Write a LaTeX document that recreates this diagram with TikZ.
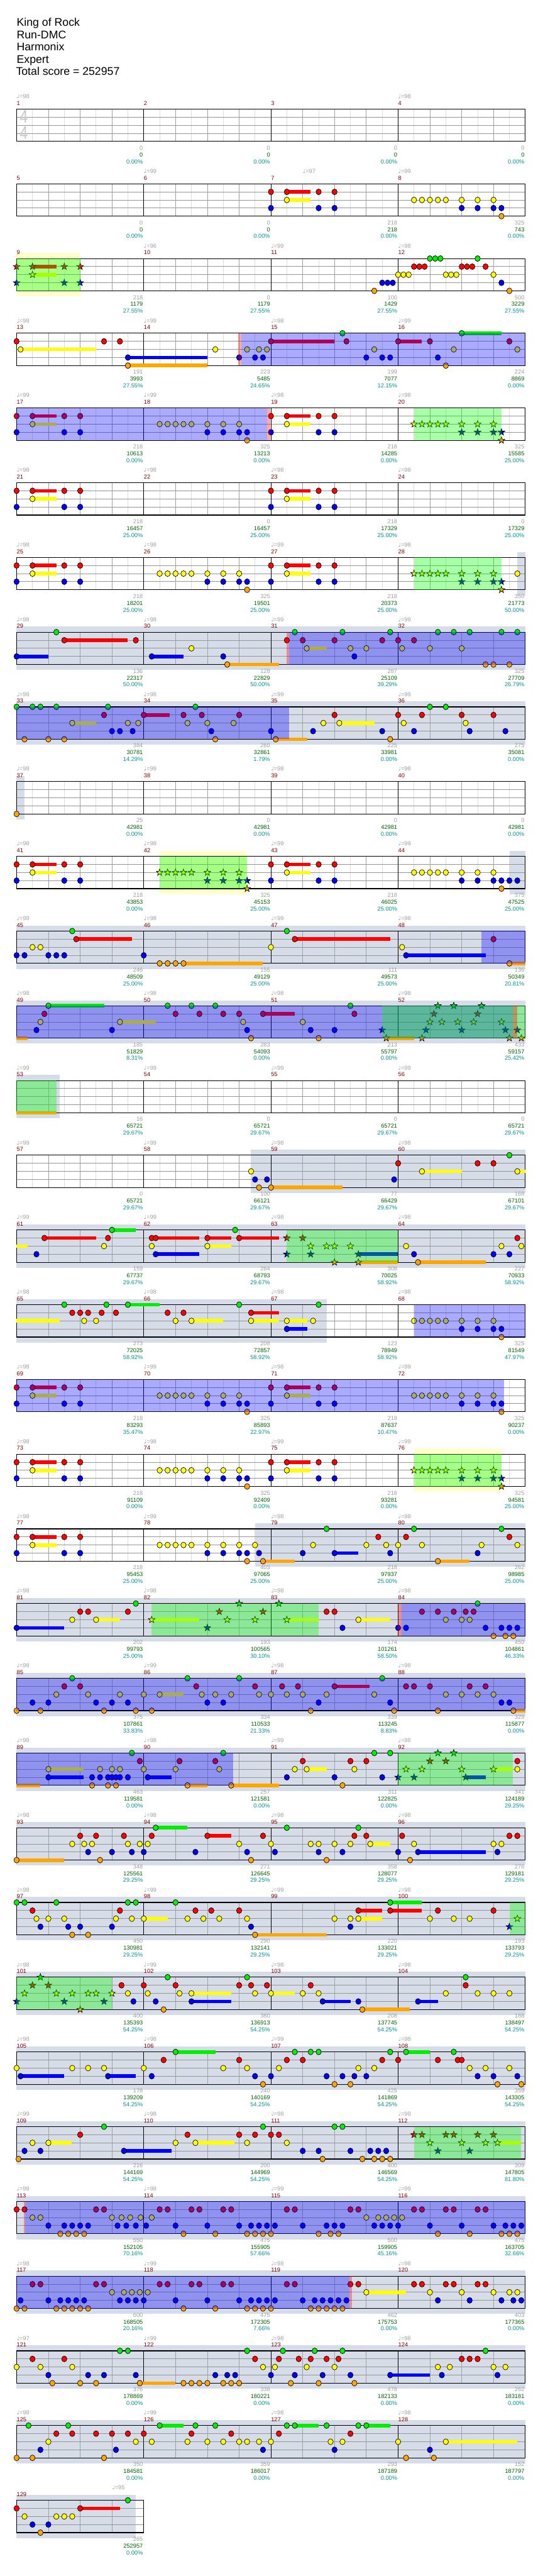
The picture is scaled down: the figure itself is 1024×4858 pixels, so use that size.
\documentclass[tikz,border=0pt]{standalone}
\usepackage{fontspec}
\setmainfont{Liberation Sans}
\newfontfamily\sym{DejaVu Sans}
\definecolor{cG}{HTML}{00EE00}
\definecolor{cR}{HTML}{FF0000}
\definecolor{cY}{HTML}{FFFF00}
\definecolor{cB}{HTML}{0000FF}
\definecolor{cO}{HTML}{FFA500}
\definecolor{greyband}{HTML}{D6DCE8}
\definecolor{paleyel}{HTML}{FFFFCC}
\definecolor{mncol}{HTML}{8B0000}
\definecolor{stgray}{HTML}{A0A0A0}
\definecolor{stgreen}{HTML}{006400}
\definecolor{stteal}{HTML}{009696}
\definecolor{odcol}{HTML}{0808FF}
\def\lnG{0}\def\lnR{1}\def\lnY{2}\def\lnB{3}\def\lnO{4}
\newcount\nc
\tikzset{
 gem/.style={draw=black,line width=0.6pt},
 l8/.style={draw={rgb,255:red,221;green,221;blue,221},line width=0.75pt},
 lb/.style={draw=stgray,line width=0.75pt},
 hl/.style={draw={rgb,255:red,150;green,150;blue,150},line width=0.8pt},
 ml/.style={draw=black,line width=0.75pt},
 bd/.style={draw=black,line width=1pt},
 odf/.style={fill=odcol,fill opacity=0.34},
 spf/.style={fill={rgb,255:red,0;green,255;blue,0},fill opacity=0.34},
 pkf/.style={fill=red,fill opacity=0.34},
 txt/.style={inner sep=0pt,font=\fontsize{8.25pt}{9pt}\selectfont},
 mn/.style={txt,text=mncol},
 tp/.style={txt,text=stgray},
 sa/.style={txt,text=stgray},
 sb/.style={txt,text=stgreen},
 sc/.style={txt,text=stteal},
 hdr/.style={inner sep=0pt,font=\fontsize{15.75pt}{18pt}\selectfont,anchor=base west}
}
\newcommand\nt[2]{\filldraw[gem,fill=c#2] (#1,\csname ln#2\endcsname) ellipse [x radius=3.75pt,y radius=4.1pt];}
\newcommand\su[3]{\fill[c#3] (#1,\csname ln#3\endcsname-0.22) rectangle (#2,\csname ln#3\endcsname+0.22);}
\newcommand\sg[2]{\filldraw[gem,fill=c#2,shift={(#1,\csname ln#2\endcsname)}] (90:5pt)--(126:2pt)--(162:5pt)--(198:2pt)--(234:5pt)--(270:2pt)--(306:5pt)--(342:2pt)--(18:5pt)--(54:2pt)--cycle;}
\newcommand\gems[1]{\foreach \a/\b in {#1}{\edef\tmpx{\noexpand\nt{\a}{\b}}\tmpx}}
\newcommand\sust[1]{\foreach \a/\b/\c in {#1}{\edef\tmpx{\noexpand\su{\a}{\b}{\c}}\tmpx}}
\newcommand\starg[1]{\foreach \a/\b in {#1}{\edef\tmpx{\noexpand\sg{\a}{\b}}\tmpx}}
\newcommand\patA[1]{\su{#1+2}{#1+5}{R}\su{#1+2}{#1+5}{Y}\nt{#1}{R}\nt{#1}{B}\nt{#1+2}{R}\nt{#1+2}{Y}\nt{#1+6}{R}\nt{#1+6}{B}\nt{#1+8}{R}\nt{#1+8}{B}}
\newcommand\patAs[1]{\su{#1+2}{#1+5}{R}\su{#1+2}{#1+5}{Y}\sg{#1}{R}\sg{#1}{B}\sg{#1+2}{R}\sg{#1+2}{Y}\sg{#1+6}{R}\sg{#1+6}{B}\sg{#1+8}{R}\sg{#1+8}{B}}
\newcommand\patB[1]{\foreach \k in {2,3,4,5,6,8,10,12}{\nt{#1+\k}{Y}}\foreach \k in {8,10,12,13}{\nt{#1+\k}{B}}\nt{#1+13}{O}}
\newcommand\patBs[1]{\foreach \k in {2,3,4,5,6,8,10,12}{\sg{#1+\k}{Y}}\foreach \k in {8,10,12,13}{\sg{#1+\k}{B}}\sg{#1+13}{O}}
\newcommand\od[2]{\fill[odf] (#1,0) rectangle (#2,4);}
\newcommand\spr[2]{\fill[spf] (#1,0) rectangle (#2,4);}
\newcommand\pk[2]{\fill[pkf] (#1,0) rectangle (#2,4);}
\newcommand\gb[2]{\fill[greyband] (#1,-0.68) rectangle (#2,4.68);}
\newcommand\yb[2]{\fill[paleyel] (#1,-0.68) rectangle (#2,4.68);}
\newcommand\grid[1]{%
 \pgfmathtruncatemacro\nn{16*#1}%
 \foreach \t in {2,6,...,\nn}{\draw[l8] (\t,0)--(\t,4);}%
 \foreach \t in {4,8,...,\nn}{\draw[lb] (\t,0)--(\t,4);}%
 \foreach \l in {1,2,3}{\draw[hl] (0,\l)--(\nn,\l);}%
 \foreach \m in {1,...,#1}{\draw[ml] (16*\m,0)--(16*\m,4);}%
 \draw[bd] (0,0) rectangle (\nn,4);}
\newcommand\mnums[2]{\foreach \i in {1,...,#2}{\pgfmathtruncatemacro\mm{#1+\i-1}\node[mn,anchor=base west,name=mn\mm] at ({16*(\i-1)},-0.48) {\mm};}}
\newcommand\tempos[1]{\foreach \t/\v in {#1}{\global\advance\nc by 1 \node[tp,anchor=base west,name=tp\the\nc] at (\t,-1.31) {{\sym ♩}=\v};}}
\newcommand\stt[1]{\foreach \i/\a/\b/\c in {#1}{\global\advance\nc by 1
 \node[sa,anchor=base east,name=sa\the\nc] at ({16*\i-0.09},5.05) {\a};
 \node[sb,anchor=base east,name=sb\the\nc] at ({16*\i-0.09},5.90) {\b};
 \node[sc,anchor=base east,name=sc\the\nc] at ({16*\i-0.09},6.74) {\c\%};}}
\newcommand\rowb[1]{\pgfmathsetmacro\rt{205.7+140.92*(#1-1)}\begin{scope}[shift={(31.3,\rt)},x=11.25pt,y=-11.4375pt]}
\newcommand\rowe{\end{scope}}
\begin{document}
\begin{tikzpicture}[x=0.75pt,y=-0.75pt]
\fill[white] (0,0) rectangle (1024,4858);
\useasboundingbox (0,0) rectangle (1024,4858);
\node[hdr] (h1) at (31.3,49.3) {King of Rock};
\node[hdr] (h2) at (31.3,72.4) {Run-DMC};
\node[hdr] (h3) at (31.3,95.5) {Harmonix};
\node[hdr] (h4) at (31.3,118.6) {Expert};
\node[hdr] (h5) at (30,141.7) {Total score = 252957};
% row 1
\rowb{1}
\grid{4}
\node[inner sep=0pt,text={rgb,255:red,200;green,200;blue,200},font=\fontsize{26pt}{26pt}\selectfont] (ts1) at (0.9,0.97) {\scalebox{0.8}[1]{4}};
\node[inner sep=0pt,text={rgb,255:red,200;green,200;blue,200},font=\fontsize{26pt}{26pt}\selectfont] (ts2) at (0.9,2.97) {\scalebox{0.8}[1]{4}};
\mnums{1}{4}\tempos{0/98,48/98}
\stt{1/0/0/0.00,2/0/0/0.00,3/0/0/0.00,4/0/0/0.00}
\rowe
% row 2
\rowb{2}
\grid{4}
\patA{32}\patB{48}
\mnums{5}{4}\tempos{16/99,36/97,48/99}
\stt{1/0/0/0.00,2/0/0/0.00,3/218/218/0.00,4/325/743/0.00}
\rowe
% row 3
\rowb{3}
\yb{0}{8}
\grid{4}
\patAs{0}
\gems{45/O,46/B,46.67/B,47.33/B,48/Y,48.67/Y,49.33/Y,50/R,50.67/R,51.33/R,52/G,52.67/G,53.33/G,54/Y,54.67/Y,55.33/Y,56/R,56.67/R,57.33/R,58/G,59/R,60/Y,61/B,62/O}
\spr{0}{8}
\mnums{9}{4}\tempos{16/96,32/99,48/98}
\stt{1/218/1179/27.55,2/0/1179/27.55,3/100/1429/27.55,4/500/3229/27.55}
\rowe
% row 4
\rowb{4}
\grid{4}
\sust{0.5/10/Y,14/24/B,14/24/O,32/40/R,48/51/R,56/61/G}
\gems{0/R,0.5/Y,11/R,13/R,14/B,14/O,25/Y,28/B,29/Y,30/B,30.5/Y,31/B,31.5/Y,32/R,41/G,41.5/R,44/B,45/Y,46/B,47/B,48/R,52/R,53/B,54/O,55/Y,56/G,62/R,63/Y}
\pk{27.9}{28.27}\od{28.27}{64}
\mnums{13}{4}\tempos{0/98,16/99,32/98,48/99}
\stt{1/191/3993/27.55,2/223/5485/24.65,3/199/7077/12.15,4/224/8869/0.00}
\rowe
% row 5
\rowb{5}
\grid{4}
\patA{0}\patB{16}\patA{32}\patBs{48}
\od{0}{31.5}\pk{31.5}{31.9}\spr{50}{61}
\mnums{17}{4}\tempos{0/99,16/99,32/98,48/98}
\stt{1/218/10613/0.00,2/325/13213/0.00,3/218/14285/0.00,4/325/15585/25.00}
\rowe
% row 6
\rowb{6}
\grid{4}
\patA{0}\patA{32}
\mnums{21}{4}\tempos{0/98,16/98,32/98,48/98}
\stt{1/218/16457/25.00,2/0/16457/25.00,3/218/17329/25.00,4/0/17329/25.00}
\rowe
% row 7
\rowb{7}
\gb{63}{64}
\grid{4}
\patA{0}\patB{16}\patA{32}\patBs{48}\gems{63/Y}
\spr{50}{61}
\mnums{25}{4}\tempos{0/98,16/98,32/99,48/98}
\stt{1/218/18201/25.00,2/325/19501/25.00,3/218/20373/25.00,4/350/21773/50.00}
\rowe
% row 8
\rowb{8}
\gb{0}{64}
\grid{4}
\sust{0/4/B,6/14/R,17/21/B,26.5/33/O,36.5/39/Y}
\gems{0/B,5/G,6/R,15/R,17/B,22/Y,26/B,26.5/O,34/R,35/G,36/R,36.5/Y,40/R,41/G,42/Y,42.5/B,44/Y,46/R,47/G,48/R,48.5/Y,50/R,52/Y,53/G,55/G,56/Y,57/G,59/O,60/O,61/G,62/O,63/G}
\pk{34}{34.3}\od{34.3}{64}
\mnums{29}{4}\tempos{0/98,16/98,32/99,48/99}
\stt{1/136/22317/50.00,2/128/22829/50.00,3/287/25109/39.29,4/325/27709/26.79}
\rowe
% row 9
\rowb{9}
\gb{0}{64}
\grid{4}
\sust{7/10/Y,16/19.3/R,32.6/36.6/O,40.6/45/Y}
\gems{0/G,1/O,2/G,3/G,4/O,5/G,6/O,7/Y,11/R,11.5/G,12/B,13/B,14/Y,14.6/B,15.3/Y,16/R,21/R,21.5/Y,22.5/G,23.3/R,24/Y,24.5/B,25/O,27.3/Y,28/R,32/B,32.6/O,37.3/B,38.6/Y,40/R,40.6/Y,46/B,47/O,48/R,48.7/Y,50/B,51/R,52/G,54/G,56/R,56.5/Y,57/B,60/R,61.5/B}
\od{0}{34.3}
\mnums{33}{4}\tempos{0/98,16/98,32/99,48/99}
\stt{1/384/30781/14.29,2/260/32861/1.79,3/225/33981/0.00,4/275/35081/0.00}
\rowe
% row 10
\rowb{10}
\gb{0}{1}
\grid{4}
\gems{0/O}
\mnums{37}{4}\tempos{0/98,16/99,32/98,48/98}
\stt{1/25/42981/0.00,2/0/42981/0.00,3/0/42981/0.00,4/0/42981/0.00}
\rowe
% row 11
\rowb{11}
\yb{18}{29}\gb{62}{64}
\grid{4}
\patA{0}\patBs{16}\patA{32}\patB{48}\gems{62/B,63/B}
\spr{18}{29}
\mnums{41}{4}\tempos{0/98,16/98,32/99,48/99}
\stt{1/218/43853/0.00,2/325/45153/25.00,3/218/46025/25.00,4/375/47525/25.00}
\rowe
% row 12
\rowb{12}
\gb{0}{64}
\grid{4}
\sust{7.5/14.5/R,21/31/O,35/47/R,49/59/B,62/64/O}
\gems{0/B,1/B,2/Y,3/Y,4/B,5/B,6/B,7/G,7.5/R,16/B,18/O,19/O,20/O,21/O,32/Y,34/G,35/R,48.5/Y,49/B,60/R,62/O}
\od{58.5}{64}
\mnums{45}{4}\tempos{0/98,16/98,32/99,48/98}
\stt{1/246/48509/25.00,2/155/49129/25.00,3/111/49573/25.00,4/136/50349/20.81}
\rowe
% row 13
\rowb{13}
\gb{0}{64}
\grid{4}
\sust{0/1.4/O,4/11/G,13/17.5/Y,31/35/R,46.5/50/O}
\gems{2.5/B,3/Y,3.5/R,4/G,12/B,13/Y,19/G,20/R,22/G,23/R,25/G,26/R,28/R,28.5/Y,29/B,29.5/O,31/R,36/Y,37/B,38/O,40/B,42/G,42.5/R}
\starg{46/B,46.5/O,51/O,51.5/B,52/Y,52.5/R,53/G,53.5/Y,55/G,55.5/Y,56/B,57.5/Y,58/R,58.5/G,61/Y,61.5/B,62/O,63/B,63.5/O}
\od{0}{62.4}\spr{46}{64}\pk{62.4}{63}
\mnums{49}{4}\tempos{0/98,16/98,32/98,48/98}
\stt{1/185/51829/8.31,2/283/54093/0.00,3/213/55797/0.00,4/433/59157/25.42}
\rowe
% row 14
\rowb{14}
\gb{0}{5.4}
\grid{4}
\sust{0/5/O}
\spr{0}{5}
\mnums{53}{4}\tempos{0/99,16/99,32/99,48/99}
\stt{1/16/65721/29.67,2/0/65721/29.67,3/0/65721/29.67,4/0/65721/29.67}
\rowe
% row 15
\rowb{15}
\gb{29.5}{64}
\grid{4}
\sust{32/41/O,51/56/Y,63/64/Y}
\gems{29.5/Y,30/B,30.5/O,31.5/B,32/O,47.5/B,48/R,51/Y,58/R,60/R,62/G,63/Y}
\mnums{57}{4}\tempos{0/99,16/99,32/98,48/98}
\stt{1/0/65721/29.67,2/100/66121/29.67,3/77/66429/29.67,4/168/67101/29.67}
\rowe
% row 16
\rowb{16}
\gb{0}{64}
\grid{4}
\sust{0/1.4/Y,3.5/10/R,12/15/G,17.5/23/R,17.5/23/B,24/27/R,24/27/Y,28/33/R,43/48/B,43/48/O,50.5/59/O}
\gems{2.5/B,3.5/R,11/Y,11.5/R,12/G,17/Y,17/R,17.5/R,17.5/B,24/R,24/Y,27.5/G,28/R,49/Y,50/B,50.5/O,60/B,61/Y,62/B,63/R,63.5/Y}
\starg{34/R,34/B,36/R,37/B,37/Y,39/Y,40/Y,40/O,42/Y,43/B,43/O}
\spr{34}{48}
\mnums{61}{4}\tempos{0/99,16/99,32/98,48/98}
\stt{1/159/67737/29.67,2/264/68793/29.67,3/308/70025/58.92,4/227/70933/58.92}
\rowe
% row 17
\rowb{17}
\gb{0}{39}
\grid{4}
\sust{0/5.4/Y,14/18/G,22/26/Y,29.5/33/R,29.5/33/Y,34/36.6/Y,34/36.6/B}
\gems{6/G,7/R,8/R,8.5/Y,9/R,10/Y,10.7/R,11.3/G,12.5/R,14/G,19/R,20/Y,21/R,22/Y,28/G,29.5/R,29.5/Y,34/Y,34/B,37.3/Y,38/G}
\patB{48}
\od{50}{64}
\mnums{65}{4}\tempos{0/98,16/98,32/98,48/98}
\stt{1/273/72025/58.92,2/208/72857/58.92,3/123/78949/58.92,4/325/81549/47.97}
\rowe
% row 18
\rowb{18}
\grid{4}
\patA{0}\patB{16}\patA{32}\patB{48}
\od{0}{61.3}
\mnums{69}{4}\tempos{0/98,16/99,32/98,48/99}
\stt{1/218/83293/35.47,2/325/85893/22.97,3/218/87637/10.47,4/325/90237/0.00}
\rowe
% row 19
\rowb{19}
\yb{50}{61}
\grid{4}
\patA{0}\patB{16}\patA{32}\patBs{48}
\spr{50}{61}
\mnums{73}{4}\tempos{0/98,16/98,32/99,48/99}
\stt{1/218/91109/0.00,2/325/92409/0.00,3/218/93281/0.00,4/325/94581/25.00}
\rowe
% row 20
\rowb{20}
\gb{30}{64}
\grid{4}
\patA{0}\patB{16}
\sust{31/35/O,40/43/B,53/57/O}
\gems{30/Y,30.5/B,31/O,36/B,37.3/Y,39/G,40/B,44/Y,45.5/R,46.5/Y,47/B,48/Y,49/R,50/G,51/Y,53/O,58/B,58.5/Y,61/G,62/R,63/Y}
\mnums{77}{4}\tempos{0/98,16/99,32/98,48/98}
\stt{1/218/95453/25.00,2/403/97065/25.00,3/218/97937/25.00,4/262/98985/25.00}
\rowe
% row 21
\rowb{21}
\gb{0}{64}
\grid{4}
\sust{0/6/B,10/13/Y,43/47/Y,17/23/Y,34/38/Y}
\gems{0/B,7/Y,8/R,9/R,10/Y,14/R,15/G,39/R,40/R,41/B,43/Y,48/B,49/B,51/R,53/R,54/Y,55/R,56/Y,56.5/R,57/Y,57.5/R,58/G,59/B,60/O,61/B,61.5/O,62/B,62.5/O,63/B}
\starg{17/Y,24/B,25.5/R,26.5/Y,28/G,30/Y,31/R,33/G,34/Y}
\spr{17}{38}\pk{48}{48.4}\od{48.4}{64}
\mnums{81}{4}\tempos{0/98,16/98,32/98,48/98}
\stt{1/202/99793/25.00,2/193/100565/30.10,3/174/101261/58.50,4/450/104861/46.33}
\rowe
% row 22
\rowb{22}
\gb{0}{64}
\grid{4}
\sust{18/21/Y,40/44.4/R,62.5/64/O}
\gems{0/O,2/B,3/O,4/B,5/Y,6/R,7/G,8/R,9/Y,10/B,11/O,12/B,13/Y,14/B,15/O,16/Y,17/O,18/Y,21.5/G,22.6/R,23.3/Y,24/B,25/Y,26/B,27/Y,28/G,30/R,30.5/Y,32/Y,33.4/R,34/Y,35.4/R,36/Y,37/O,38/B,39/Y,40/R,45/Y,46/G,47/B,47.5/O,49/R,50/R,52/R,53/O,54/Y,56/Y,57/R,58/Y,59/R,60/Y,61/B,62/B,62.5/O}
\od{0}{64}
\mnums{85}{4}\tempos{0/98,16/99,32/98,48/98}
\stt{1/375/107861/33.83,2/334/110533/21.33,3/339/113245/8.83,4/329/115877/0.00}
\rowe
% row 23
\rowb{23}
\gb{0}{64}
\grid{4}
\sust{0/3/O,4/8.4/Y,4/8.4/B,16.5/19.5/B,21.5/24/O,27/33/O,36.5/39/Y,56.5/59/B,60/62.4/Y}
\gems{4/Y,4/B,9.5/B,9.5/O,10.5/Y,10.5/B,11.5/B,11.5/O,12/Y,12/B,12.5/B,12.5/O,13/Y,13/B,14/B,14.5/G,15.5/R,16/Y,16.5/B,20/Y,20.5/R,21.5/O,25/R,25.5/Y,26/G,27/O,34/B,35/Y,36/R,36.5/Y,40/B,41/O,42/R,42.5/Y,44/R,45/G,46/B,47/G,63/R,63/Y}
\starg{48/B,49/Y,50/B,51/Y,52/R,53/G,54/R,55/G,56/Y,56.5/B,60/Y}
\od{0}{27.25}\spr{48}{62.4}
\mnums{89}{4}\tempos{0/98,16/98,32/99,48/98}
\stt{1/463/119581/0.00,2/257/121581/0.00,3/311/122825/0.00,4/341/124189/29.25}
\rowe
% row 24
\rowb{24}
\gb{0}{64}
\grid{4}
\sust{0/6/O,17.5/21.5/G,24/27/R,44.5/47/Y,50.5/59/B}
\gems{0/O,7/Y,8/R,8.5/Y,9/B,9.5/Y,10/R,10.5/O,12/B,13.5/R,14/Y,14.5/B,15.5/Y,16/B,16.5/Y,17/R,17.5/G,22.5/B,24/R,28/Y,29/B,29.5/O,31/R,32/Y,32.5/B,34/G,37/Y,38/Y,38/B,39/O,40/Y,41/B,42/Y,42.5/R,43/G,44/R,44.5/Y,48/B,48.5/R,49.5/O,50/Y,50.5/B,60/Y,60.5/B,61/Y,62/R,63/R}
\mnums{93}{4}\tempos{0/98,16/98,32/98,48/98}
\stt{1/348/125561/29.25,2/271/126645/29.25,3/358/128077/29.25,4/276/129181/29.25}
\rowe
% row 25
\rowb{25}
\gb{0}{64}
\grid{4}
\sust{16/19/Y,30/39/O,43/46/R,43/46/Y,47/51/G,47/51/R}
\gems{0/G,1/G,2/R,2.5/Y,3/B,4/Y,5/G,6/Y,6.5/B,7/O,8/B,9/O,12/B,12.5/Y,13/R,14/G,14.5/Y,15/G,16/Y,20/G,21.5/Y,22.5/R,23.5/Y,24.5/R,25.5/Y,28/R,29/Y,29.5/B,30/O,40/Y,42/Y,42/B,43/R,43/Y,47/G,47/R,52/Y,53/R,55/Y,57/Y,60/R}
\starg{62/B,63/Y}
\spr{62}{64}
\mnums{97}{4}\tempos{0/98,16/99,32/99,48/98}
\stt{1/450/130981/29.25,2/290/132141/29.25,3/220/133021/29.25,4/193/133793/29.25}
\rowe
% row 26
\rowb{26}
\gb{0}{64}
\grid{4}
\sust{22/27/Y,22/27/B,32/35/Y,38.5/42/B,43.5/49.5/O,50.5/53/B}
\starg{0/B,1/Y,2/R,3/G,4/R,5/Y,6/B,7/Y,8/O,9/Y,10/Y,11/B,12/Y}
\gems{13.2/R,14/Y,14.7/B,16/R,16.5/Y,17.5/B,18.5/O,19/G,20/R,20.5/Y,22/Y,22/B,28/R,29/G,29.5/R,30/Y,31.5/R,32/Y,36/Y,37/R,38/Y,38.5/B,43/B,43.5/O,50.5/B,54/Y,56.5/G,56.5/R,58/Y,60/Y,62/Y}
\spr{0}{12}
\mnums{101}{4}\tempos{0/98,16/99,32/98,48/98}
\stt{1/400/135393/54.25,2/380/136913/54.25,3/208/137745/54.25,4/188/138497/54.25}
\rowe
% row 27
\rowb{27}
\gb{0}{64}
\grid{4}
\sust{0.5/6/B,11.5/15/B,20/25/G,49/52/G}
\gems{0/Y,0.5/B,7/Y,9/Y,11/Y,11.5/B,16/Y,17/B,18.5/R,20/G,26/Y,28/R,29/Y,30/B,31/O,32/B,33/Y,34/R,35/G,36/R,37/G,38/G,39/B,40/O,41/B,42/O,42.5/B,43/Y,44/B,45/Y,46/R,47/G,48/R,49/G,53/R,55/G,55.5/R,56/R,57/Y,58/B,59/Y,60/B,60.5/O,62/Y,63/B,63.5/O}
\mnums{105}{4}\tempos{0/98,16/98,32/99,48/98}
\stt{1/178/139209/54.25,2/240/140169/54.25,3/425/141869/54.25,4/359/143305/54.25}
\rowe
% row 28
\rowb{28}
\gb{0}{64}
\grid{4}
\sust{4/6.9/Y,13.5/19.5/B,22.5/27.4/Y,60.5/63.5/Y}
\gems{0.25/O,1/B,2/Y,3/B,4/Y,8/R,11/G,13.5/B,20/Y,21.5/R,22.5/Y,28/R,29/Y,30/R,31/G,32/R,33/R,34/Y,36/B,38/B,38.5/O,40/G,41/G,42/B,43.5/O,44.5/B,45/O,45.5/B,46/O,46.5/B,47/O}
\starg{50/R,51/R,52/Y,53/B,54/R,55/R,56/Y,57/B,58/R,59/Y,60/R,60.5/Y}
\spr{50}{63.5}
\mnums{109}{4}\tempos{0/99,16/98,32/98,48/99}
\stt{1/216/144169/54.25,2/200/144969/54.25,3/400/146569/54.25,4/309/147805/81.80}
\rowe
% row 29
\rowb{29}
\gb{0}{64}
\grid{4}
\gems{0/R,1/R,2/Y,3/Y,4/B,5.5/O,6/B,6.5/O,7/B,7.5/O,8/B,8.5/O,9/B,10/R,11/R,12/Y,12.7/B,13.2/Y,13.8/B,14.3/Y,15/B,15.6/Y,16.3/B,17/Y,18/R,19/R,20/B,21/O,22/R,23/R,24/B,25/O,26/R,27/R,28/B,29/O,29.5/B,30/O,30.5/B,31/O,31.5/B,32/O,32.5/B,34/R,35/R,36/B,38/O,39/B,39.5/O,40/B,40.5/O,41/B,42/R,43/R,44/Y,45/B,45.5/Y,46/B,46.5/Y,47/B,47.5/Y,48/B,48.5/Y,50/R,51/R,52/B,53/O,54/R,55/R,56/B,57/O,58/R,59/R,60/B,61/O,61.5/B,62/O,62.5/B,63/O,63.5/B}
\pk{0.9}{1.05}\od{1.05}{64}
\mnums{113}{4}\tempos{0/98,16/98,32/99,48/99}
\stt{1/550/152105/70.16,2/475/155905/57.66,3/500/159905/45.16,4/475/163705/32.66}
\rowe
% row 30
\rowb{30}
\gb{0}{64}
\grid{4}
\sust{44/49/Y}
\gems{0/O,0.5/B,1/O,2/R,3/R,4/B,5/O,5.5/B,6/O,6.5/B,7/O,7.5/B,8/O,8.5/B,9/O,10/R,11/R,12/Y,13/B,13.5/Y,14/B,14.5/Y,15/B,15.5/Y,16/B,16.5/Y,18/R,19/R,20/B,21/O,22/R,23/R,24/B,25/O,26/R,27/R,28/B,29/O,29.5/B,30/O,30.5/B,31/O,31.5/B,32/O,32.5/B,34/R,35/R,36/B,37/O,37.5/B,38/O,38.5/B,39/O,39.5/B,40/O,40.5/B,41/O,41.5/B,42/R,43/R,44/Y,50/R,51/R,52/Y,53/B,54/R,55/R,56/Y,57/B,58/R,59/R,60/Y,61/B,62/Y,62.5/B,63/Y,63.5/B}
\od{0}{41.9}\pk{41.9}{42.2}
\mnums{117}{4}\tempos{0/98,16/99,32/98,48/98}
\stt{1/600/168505/20.16,2/475/172305/7.66,3/462/175753/0.00,4/403/177365/0.00}
\rowe
% row 31
\rowb{31}
\gb{0}{64}
\grid{4}
\sust{15.5/20/O,47/52/B}
\gems{0/Y,2/R,3/Y,4/B,4.5/O,6/R,7/Y,8/O,9/B,10/O,11/B,13/G,14/G,15/B,15.5/O,21/O,22/O,23/O,24/O,25/B,26/O,26.5/B,27/O,27.5/B,28/O,29/G,30/R,31/Y,32/B,32.5/Y,33/R,33.5/G,34.5/O,35/B,35.5/R,36.5/Y,37/R,37.5/G,38/O,38.5/B,39/R,40/Y,40.5/R,41/G,42/B,42.5/O,47/B,53/Y,53.5/B,54.5/Y,56/R,57/R,58/R,59/G,60/Y,60.5/B,61.5/Y}
\mnums{121}{4}\tempos{0/97,16/99,32/98,48/98}
\stt{1/376/178869/0.00,2/338/180221/0.00,3/478/182133/0.00,4/262/183181/0.00}
\rowe
% row 32
\rowb{32}
\gb{0}{64}
\grid{4}
\sust{18/21/G,35/38/G,44/47/G,54/63/Y}
\gems{0/O,1.5/G,2/O,3/B,4/Y,5/R,6.5/G,7/R,10/R,11/O,12/R,12.5/B,14/R,15/Y,16/R,17/Y,18/G,21.5/Y,22/R,22.5/G,24/Y,25/G,26/Y,27/R,28/Y,29/Y,30.5/Y,31/B,32/Y,33/R,34/G,35/G,39/G,39.5/Y,40/B,41/Y,42/R,43/G,44/G,48/Y,49/O,52/B,52.5/O,54/Y}
\mnums{125}{4}\tempos{0/98,16/99,32/98,48/98}
\stt{1/350/184581/0.00,2/359/186017/0.00,3/293/187189/0.00,4/152/187797/0.00}
\rowe
% row 33
\rowb{33}
\gb{0}{15}
\grid{1}
\sust{8/13/R}
\gems{0/R,1/Y,2/B,3/O,4/B,5/Y,6/Y,7/Y,8/R,14/G}
\mnums{129}{1}\tempos{12/95}
\stt{1/265/252957/0.00}
\rowe
\end{tikzpicture}
\end{document}
